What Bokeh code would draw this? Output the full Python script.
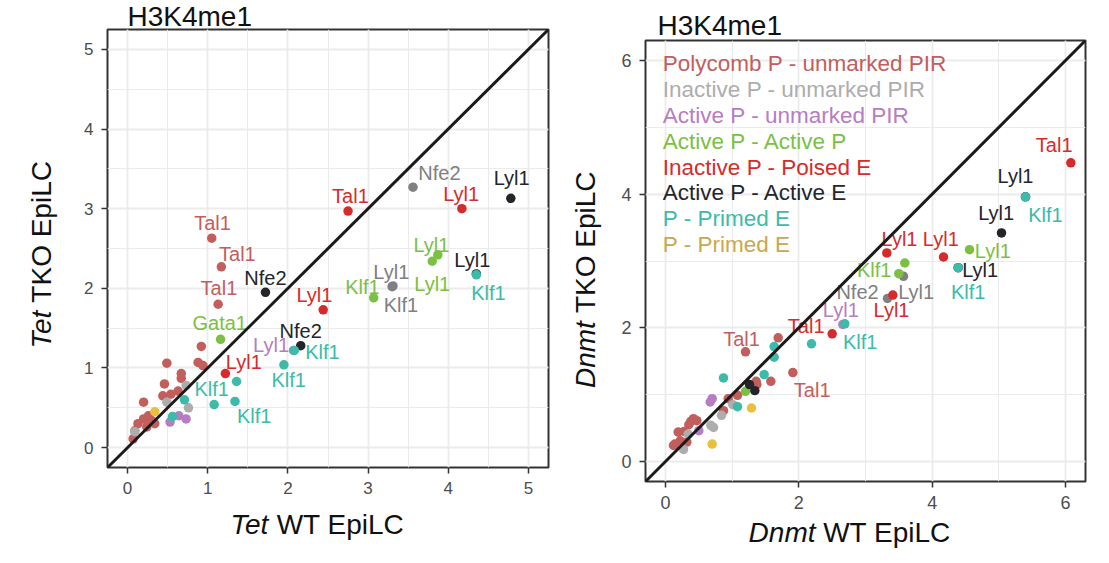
from bokeh.plotting import figure
from bokeh.layouts import row, column
from bokeh.models import ColumnDataSource, Range1d, SingleIntervalTicker, Slope
from bokeh.core.properties import value
from bokeh.embed import file_html
from bokeh.resources import INLINE

FONT = "Liberation Sans"
HALF_PI = 1.5707963

# ---------------- categories ----------------
legend_groups = ["PC", "IN", "AU", "AA", "PE", "AE", "PR", "PR2"]
legend_texts = [
    "Polycomb P - unmarked PIR",
    "Inactive P - unmarked PIR",
    "Active P - unmarked PIR",
    "Active P - Active P",
    "Inactive P - Poised E",
    "Active P - Active E",
    "P - Primed E",
    "P - Primed E",
]
group_colors = {
    "PC": "#C25E5C", "IN": "#ADADAD", "INd": "#808080", "AU": "#B67CC4",
    "AA": "#7BC043", "PE": "#D62B2B", "AE": "#23252B", "PR": "#3CBBA9",
    "PR2": "#EBBF3C",
}
legend_colors = {"PR2": "#C9A84C"}

# ---------------- Tet panel data ----------------
tet_x = [1.05, 1.17, 1.13, 0.92, 0.49, 0.88, 0.94, 0.67, 0.67, 0.46, 0.44, 0.54, 0.63,
         0.20, 0.20, 0.26, 0.30, 0.34, 0.13, 0.09, 0.07, 0.24,
         0.73, 0.49, 0.76, 0.09,
         3.56, 3.30, 3.31,
         0.53, 0.64, 0.73, 2.07,
         1.16, 3.07, 3.80, 3.87,
         2.75, 4.17, 2.44, 1.22,
         1.72, 2.16, 4.78, 4.35,
         4.35, 2.08, 1.95, 1.36, 1.34, 1.08, 0.71, 0.56,
         0.34]
tet_y = [2.63, 2.27, 1.80, 1.27, 1.06, 1.07, 1.03, 0.93, 0.87, 0.80, 0.65, 0.67, 0.71,
         0.57, 0.36, 0.40, 0.34, 0.30, 0.30, 0.21, 0.11, 0.26,
         0.78, 0.57, 0.50, 0.20,
         3.27, 2.02, 2.03,
         0.32, 0.40, 0.36, 1.22,
         1.36, 1.88, 2.34, 2.42,
         2.97, 3.00, 1.73, 0.93,
         1.95, 1.28, 3.13, 2.18,
         2.17, 1.22, 1.04, 0.83, 0.58, 0.54, 0.60, 0.39,
         0.45]
tet_group = (["PC"] * 22 + ["IN"] * 4 + ["INd"] * 3 + ["AU"] * 4 + ["AA"] * 4 +
             ["PE"] * 4 + ["AE"] * 4 + ["PR"] * 8 + ["PR2"])

tet_label_text = ["Tal1", "Nfe2", "Lyl1", "Lyl1", "Tal1", "Tal1", "Lyl1", "Lyl1", "Nfe2",
                  "Tal1", "Lyl1", "Klf1", "Lyl1", "Klf1", "Lyl1", "Klf1", "Gata1", "Nfe2",
                  "Lyl1", "Klf1", "Lyl1", "Klf1", "Klf1", "Klf1"]
tet_label_x = [2.78, 3.89, 4.16, 4.79, 1.06, 1.37, 3.79, 4.30, 1.72,
               1.14, 3.29, 2.93, 3.80, 4.50, 2.33, 3.41, 1.15, 2.16,
               1.79, 2.43, 1.45, 1.05, 2.01, 1.58]
tet_label_y = [3.16, 3.45, 3.18, 3.38, 2.82, 2.43, 2.54, 2.36, 2.13,
               2.00, 2.21, 2.02, 2.06, 1.94, 1.91, 1.79, 1.56, 1.46,
               1.29, 1.20, 1.08, 0.74, 0.85, 0.40]
tet_label_group = ["PE", "INd", "PE", "AE", "PC", "PC", "AA", "AE", "AE",
                   "PC", "INd", "AA", "AA", "PR", "PE", "INd", "AA", "AE",
                   "AU", "PR", "PE", "PR", "PR", "PR"]

# ---------------- Dnmt panel data ----------------
dnmt_x = [1.20, 1.69, 1.91, 1.58, 1.36, 1.37, 0.94, 1.08, 0.87, 0.42, 0.38, 0.47, 0.19,
          0.14, 0.22, 0.32, 0.12, 0.35, 0.28,
          1.01, 0.84, 0.68, 0.72, 0.34, 0.27,
          3.57, 3.33,
          0.70, 0.67, 0.50, 2.66,
          1.20, 3.59, 3.50, 4.56,
          6.08, 3.32, 4.17, 3.41, 2.50,
          5.04, 1.26, 1.34, 5.40, 4.39,
          5.40, 4.39, 2.69, 2.19, 1.63, 1.63, 1.48, 0.87, 1.08,
          1.29, 0.70]
dnmt_y = [1.64, 1.85, 1.33, 1.20, 1.20, 1.15, 0.94, 0.99, 0.76, 0.64, 0.60, 0.61, 0.44,
          0.26, 0.31, 0.29, 0.24, 0.55, 0.45,
          0.85, 0.69, 0.54, 0.51, 0.41, 0.18,
          2.77, 2.44,
          0.94, 0.89, 0.46, 2.05,
          1.05, 2.97, 2.81, 3.17,
          4.47, 3.12, 3.06, 2.49, 1.91,
          3.42, 1.15, 1.06, 3.96, 2.90,
          3.96, 2.90, 2.06, 1.76, 1.72, 1.56, 1.30, 1.25, 0.82,
          0.80, 0.26]
dnmt_group = (["PC"] * 19 + ["IN"] * 6 + ["INd"] * 2 + ["AU"] * 4 + ["AA"] * 4 +
              ["PE"] * 5 + ["AE"] * 5 + ["PR"] * 9 + ["PR2"] * 2)

dnmt_label_text = ["Tal1", "Lyl1", "Klf1", "Lyl1", "Lyl1", "Lyl1", "Lyl1", "Klf1", "Lyl1",
                   "Klf1", "Nfe2", "Lyl1", "Lyl1", "Lyl1", "Tal1", "Klf1", "Tal1", "Tal1"]
dnmt_label_x = [5.83, 5.25, 5.70, 4.96, 3.51, 4.13, 4.91, 3.13, 4.72,
                4.54, 2.88, 3.76, 3.39, 2.63, 2.11, 2.92, 1.14, 2.20]
dnmt_label_y = [4.74, 4.27, 3.69, 3.72, 3.33, 3.33, 3.15, 2.87, 2.86,
                2.54, 2.54, 2.54, 2.26, 2.26, 2.03, 1.79, 1.84, 1.07]
dnmt_label_group = ["PE", "AE", "PR", "AE", "PE", "PE", "AA", "AA", "AE",
                    "PR", "INd", "INd", "PE", "AU", "PE", "PR", "PC", "PC"]

panel_title = "H3K4me1"
tet_gene, dnmt_gene = "Tet", "Dnmt"
x_suffix, y_suffix = "WT EpiLC", "TKO EpiLC"


def bare(width, height, x_range, y_range, borders):
    """A figure without axes/grid used to carry axis-title texts outside the data frame."""
    f = figure(width=width, height=height, output_backend="svg", toolbar_location=None,
               x_range=x_range, y_range=y_range, x_axis_type=None, y_axis_type=None,
               min_border_left=borders[0], min_border_right=borders[1],
               min_border_top=borders[2], min_border_bottom=borders[3],
               background_fill_color="white", border_fill_color="white")
    f.grid.visible = False
    f.outline_line_color = None
    return f


def put_text(f, x, y, t, size, style="normal", align="left", angle=0.0):
    f.text(x=[x], y=[y], text=[t], text_font=value(FONT), text_font_size=size,
           text_font_style=style, text_color="#111111", text_align=align,
           text_baseline="middle", angle=angle)


def make_main(px, py, pgroup, ltext, lx, ly, lgroup, lo, hi, interval,
              width, height, borders, tick_size, title_offset, title_standoff):
    p = figure(width=width, height=height, output_backend="svg", toolbar_location=None,
               x_range=Range1d(lo, hi), y_range=Range1d(lo, hi),
               min_border_left=borders[0], min_border_right=borders[1],
               min_border_top=borders[2], min_border_bottom=borders[3],
               background_fill_color="white", border_fill_color="white")
    p.title.text = panel_title
    p.title.text_font = FONT
    p.title.text_font_size = "28px"
    p.title.text_font_style = "normal"
    p.title.text_color = "#111111"
    p.title.align = "left"
    p.title.offset = title_offset
    p.title.standoff = title_standoff
    for ax in (p.xaxis[0], p.yaxis[0]):
        ax.ticker = SingleIntervalTicker(interval=interval, num_minor_ticks=2)
        ax.axis_line_color = None
        ax.major_tick_out = 6
        ax.major_tick_in = 0
        ax.major_tick_line_color = "#333333"
        ax.major_tick_line_width = 1.5
        ax.minor_tick_line_color = None
        ax.major_label_text_font = FONT
        ax.major_label_text_font_size = tick_size
        ax.major_label_text_color = "#4D4D4D"
        ax.major_label_standoff = 8
    for g in (p.xgrid[0], p.ygrid[0]):
        g.grid_line_color = "#EBEBEB"
        g.grid_line_width = 1.8
        g.minor_grid_line_color = "#EBEBEB"
        g.minor_grid_line_width = 1.0
    p.outline_line_color = "#333333"
    p.outline_line_width = 2

    src = ColumnDataSource(dict(x=px, y=py, c=[group_colors[g] for g in pgroup]))
    p.scatter("x", "y", source=src, size=9.5, fill_color="c", line_color=None)

    p.add_layout(Slope(gradient=1, y_intercept=0, line_color="#1A1A1A", line_width=3))

    lsrc = ColumnDataSource(dict(x=lx, y=ly, t=ltext, c=[group_colors[g] for g in lgroup]))
    p.text("x", "y", text="t", source=lsrc, text_color="c", text_align="center",
           text_baseline="middle", text_font=value(FONT), text_font_size="20px")
    return p


# ---------------- left panel (Tet) ----------------
m1 = make_main(tet_x, tet_y, tet_group, tet_label_text, tet_label_x, tet_label_y,
               tet_label_group, -0.25, 5.25, 1, 502, 505, (49, 12, 28, 38), "17px", 20, -4)
y1 = bare(58, 505, Range1d(0, 58), m1.y_range, (0, 0, 28, 38))
put_text(y1, 40.5, 1.72, tet_gene, "28px", "italic", "right", HALF_PI)
put_text(y1, 40.5, 1.82, y_suffix, "28px", "normal", "left", HALF_PI)
x1 = bare(560, 55, m1.x_range, Range1d(0, 55), (107, 12, 0, 0))
put_text(x1, 1.755, 36.5, tet_gene, "28px", "italic", "right")
put_text(x1, 1.86, 36.5, x_suffix, "28px", "normal", "left")
left = column(row(y1, m1, spacing=0), x1, spacing=0)

# ---------------- right panel (Dnmt) ----------------
m2 = make_main(dnmt_x, dnmt_y, dnmt_group, dnmt_label_text, dnmt_label_x, dnmt_label_y,
               dnmt_label_group, -0.3, 6.3, 2, 495, 516, (40, 15, 40, 35), "18px", 12, 0)
y2 = bare(45, 516, Range1d(0, 45), m2.y_range, (0, 0, 40, 35))
put_text(y2, 24.5, 2.10, dnmt_gene, "28px", "italic", "right", HALF_PI)
put_text(y2, 24.5, 2.22, y_suffix, "28px", "normal", "left", HALF_PI)
x2 = bare(540, 44, m2.x_range, Range1d(0, 44), (85, 15, 0, 0))
put_text(x2, 2.25, 27.8, dnmt_gene, "28px", "italic", "right")
put_text(x2, 2.365, 27.8, x_suffix, "28px", "normal", "left")

# in-panel legend (coloured text entries)
leg_y = [5.95 - 0.386 * i for i in range(len(legend_texts))]
leg_src = ColumnDataSource(dict(
    x=[-0.04] * len(legend_texts), y=leg_y, t=legend_texts,
    c=[legend_colors.get(g, group_colors[g]) for g in legend_groups]))
m2.text("x", "y", text="t", source=leg_src, text_color="c", text_align="left",
        text_baseline="middle", text_font=value(FONT), text_font_size="22.5px")
right = column(row(y2, m2, spacing=0), x2, spacing=0)

layout = row(left, right, spacing=0)
open("out.html", "w").write(file_html(layout, INLINE))
